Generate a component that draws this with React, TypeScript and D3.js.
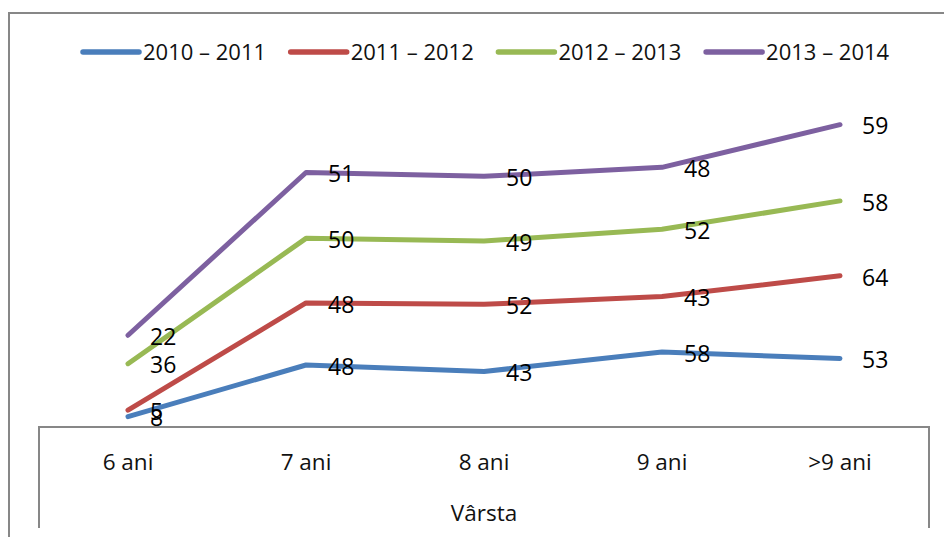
import React from 'react'
import * as d3 from 'd3'

const categories = ['6 ani', '7 ani', '8 ani', '9 ani', '>9 ani']
const seriesNames = ['2010 – 2011', '2011 – 2012', '2012 – 2013', '2013 – 2014']
const values2010 = [8, 48, 43, 58, 53]
const values2011 = [5, 48, 52, 43, 64]
const values2012 = [36, 50, 49, 52, 58]
const values2013 = [22, 51, 50, 48, 59]
const colors = ['#4A7EBB', '#BE4B48', '#98B954', '#7D60A0']
const axisTitle = 'Vârsta'

const allSeries = [values2010, values2011, values2012, values2013]

const App = () => {
  const width = 944
  const height = 537
  const font = '"Open Sans", sans-serif'

  const x = d3.scaleBand().domain(categories).range([39, 929])
  const y = d3.scaleLinear().domain([0, 250]).range([427, 104])

  // stacked line chart: each series sits on top of the ones before it
  const table = categories.map((c, i) => {
    const row: any = { cat: c }
    allSeries.forEach((s, k) => (row['s' + k] = s[i]))
    return row
  })
  const stacked = d3.stack().keys(allSeries.map((_, k) => 's' + k))(table)

  const line = d3
    .line<any>()
    .x((d) => x(d.data.cat)! + x.bandwidth() / 2)
    .y((d) => y(d[1]))

  const legendStart = 83
  const legendStep = 207.7

  return (
    <div style={{ position: 'absolute', left: 0, top: 0 }}>
      <svg width={width} height={height} style={{ display: 'block' }}>
        <rect width={width} height={height} fill="#fff" />
        {/* chart frame */}
        <path d={`M9,${height + 5}V13H${width + 5}`} fill="none" stroke="#878787" strokeWidth={2} />

        {/* legend */}
        {seriesNames.map((name, i) => {
          const lx = legendStart + i * legendStep
          return (
            <g key={name}>
              <line x1={lx} x2={lx + 56} y1={52} y2={52} stroke={colors[i]} strokeWidth={5.5} strokeLinecap="round" />
              <text x={lx + 60} y={52} dy="0.36em" fontFamily={font} fontSize={22} fill="#111">
                {name}
              </text>
            </g>
          )
        })}

        {/* category axis box */}
        <path d="M39,528V427H929V528" fill="none" stroke="#878787" strokeWidth={2} />
        {categories.map((c) => (
          <text
            key={c}
            x={x(c)! + x.bandwidth() / 2}
            y={462}
            dy="0.36em"
            textAnchor="middle"
            fontFamily={font}
            fontSize={22.5}
            fill="#111"
          >
            {c}
          </text>
        ))}
        <text x={484} y={513} dy="0.36em" textAnchor="middle" fontFamily={font} fontSize={22.5} fill="#111">
          {axisTitle}
        </text>

        {/* lines */}
        {stacked.map((s, k) => (
          <path
            key={s.key}
            d={line(s as any)!}
            fill="none"
            stroke={colors[k]}
            strokeWidth={5}
            strokeLinejoin="round"
            strokeLinecap="round"
          />
        ))}

        {/* data labels, right of each point */}
        {stacked.map((s, k) =>
          s.map((d: any, i: number) => (
            <text
              key={s.key + i}
              x={x(d.data.cat)! + x.bandwidth() / 2 + 22}
              y={y(d[1]) + 1}
              dy="0.38em"
              fontFamily={font}
              fontSize={23}
              fill="#000"
            >
              {allSeries[k][i]}
            </text>
          ))
        )}
      </svg>
    </div>
  )
}

export default App
